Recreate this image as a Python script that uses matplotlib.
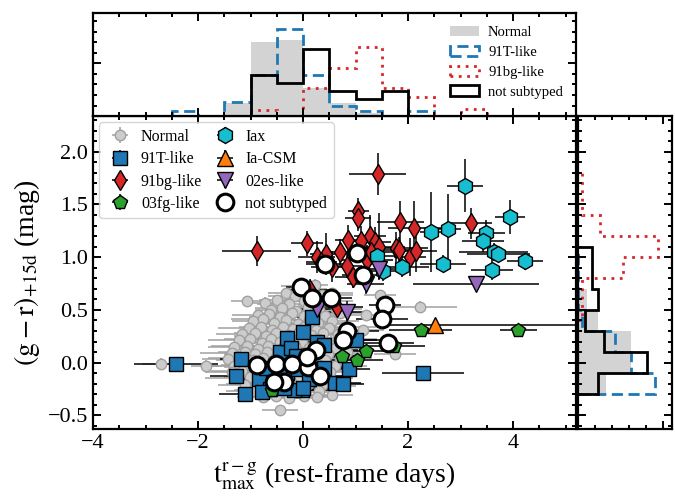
import numpy as np
import matplotlib
matplotlib.use('Agg')
import matplotlib.pyplot as plt
from matplotlib.patches import Patch
from matplotlib.ticker import MultipleLocator

plt.rcParams['font.family'] = ['Liberation Serif', 'DejaVu Serif']
plt.rcParams['mathtext.fontset'] = 'stix'

# ---------------- scatter data: (t_max^{r-g}, (g-r)_15d, xerr[, yerr]) ----------------
normal = [
    (-0.12, 0.73, 0.3), (0.05, 0.70, 0.4), (0.22, 0.74, 0.25),
    (-0.32, 0.66, 0.35), (-0.16, 0.63, 0.5), (0.12, 0.67, 0.3), (0.36, 0.64, 0.6), (0.55, 0.66, 0.4), (1.47, 0.64, 0.3),
    (-1.07, 0.58, 0.3), (-0.72, 0.57, 0.4), (-0.49, 0.59, 0.35), (-0.27, 0.56, 0.6), (0.02, 0.58, 0.45), (0.21, 0.55, 0.3),
    (0.46, 0.58, 0.5), (2.23, 0.53, 0.7),
    (-0.61, 0.50, 0.3), (-0.41, 0.52, 0.5), (-0.14, 0.49, 0.4), (0.09, 0.53, 0.6), (0.31, 0.50, 0.35), (0.62, 0.51, 0.5),
    (-0.86, 0.45, 0.5), (-0.64, 0.46, 0.3), (-0.43, 0.43, 0.6), (-0.21, 0.47, 0.4), (0.01, 0.44, 0.5), (0.19, 0.46, 0.7),
    (0.42, 0.44, 0.4), (0.71, 0.47, 0.5), (1.20, 0.45, 0.5),
    (-0.96, 0.39, 0.4), (-0.77, 0.41, 0.6), (-0.56, 0.38, 0.35), (-0.33, 0.40, 0.5), (-0.09, 0.37, 0.8), (0.12, 0.40, 0.4),
    (0.29, 0.38, 0.6), (0.56, 0.39, 0.5),
    (-1.02, 0.33, 0.6), (-0.81, 0.34, 0.4), (-0.59, 0.31, 0.5), (-0.38, 0.34, 0.7), (-0.19, 0.32, 0.4), (0.02, 0.34, 0.5),
    (0.24, 0.31, 0.6), (0.49, 0.33, 0.4), (0.79, 0.34, 0.6), (1.15, 0.31, 0.4),
    (-1.16, 0.27, 0.5), (-0.92, 0.28, 0.4), (-0.71, 0.25, 0.6), (-0.51, 0.28, 0.5), (-0.29, 0.26, 0.4), (-0.08, 0.29, 0.7),
    (0.16, 0.26, 0.5), (0.38, 0.28, 0.6), (0.66, 0.27, 0.4),
    (-1.21, 0.21, 0.6), (-1.01, 0.22, 0.5), (-0.79, 0.19, 0.4), (-0.61, 0.22, 0.7), (-0.44, 0.20, 0.5), (-0.24, 0.23, 0.6),
    (-0.02, 0.20, 0.4), (0.29, 0.22, 0.5), (0.54, 0.20, 0.6), (0.91, 0.22, 0.5),
    (-1.31, 0.15, 0.5), (-1.06, 0.16, 0.7), (-0.86, 0.13, 0.5), (-0.66, 0.16, 0.4), (-0.41, 0.14, 0.6), (-0.16, 0.16, 0.5),
    (0.11, 0.14, 0.7), (0.36, 0.16, 0.4), (0.61, 0.14, 0.5),
    (-1.36, 0.09, 0.6), (-1.11, 0.10, 0.5), (-0.91, 0.08, 0.6), (-0.69, 0.10, 0.5), (-0.49, 0.07, 0.7), (-0.31, 0.10, 0.4),
    (-0.06, 0.08, 0.6), (0.19, 0.10, 0.5), (0.48, 0.08, 0.6), (0.84, 0.10, 0.4), (1.75, 0.08, 0.4),
    (-1.42, 0.03, 0.5), (-1.21, 0.04, 0.6), (-0.96, 0.02, 0.7), (-0.76, 0.04, 0.5), (-0.56, 0.01, 0.6), (-0.36, 0.04, 0.5),
    (-0.11, 0.02, 0.7), (0.14, 0.04, 0.6), (0.41, 0.02, 0.5), (0.71, 0.04, 0.6),
    (-2.71, -0.01, 0.35), (-1.84, -0.03, 0.3), (-1.31, -0.03, 0.6), (-1.06, -0.02, 0.5), (-0.81, -0.04, 0.7),
    (-0.61, -0.02, 0.5), (-0.41, -0.04, 0.6), (-0.16, -0.02, 0.5), (0.06, -0.04, 0.7), (0.31, -0.02, 0.5), (0.61, -0.03, 0.6),
    (-1.36, -0.09, 0.5), (-1.16, -0.08, 0.6), (-0.91, -0.10, 0.5), (-0.71, -0.08, 0.7), (-0.46, -0.10, 0.5),
    (-0.26, -0.08, 0.6), (0.01, -0.10, 0.5), (0.26, -0.08, 0.7), (0.51, -0.09, 0.5),
    (-1.26, -0.15, 0.6), (-1.01, -0.14, 0.5), (-0.76, -0.16, 0.6), (-0.56, -0.14, 0.5), (-0.31, -0.16, 0.7),
    (-0.06, -0.14, 0.5), (0.21, -0.16, 0.6), (0.46, -0.15, 0.5),
    (-1.11, -0.21, 0.5), (-0.86, -0.20, 0.6), (-0.61, -0.22, 0.5), (-0.41, -0.20, 0.7), (-0.16, -0.22, 0.5),
    (0.09, -0.20, 0.6), (0.36, -0.21, 0.5), (0.61, -0.22, 0.4),
    (-0.96, -0.27, 0.5), (-0.71, -0.26, 0.6), (-0.46, -0.28, 0.5), (-0.21, -0.26, 0.6), (0.04, -0.28, 0.5), (0.31, -0.27, 0.6),
    (-0.76, -0.33, 0.5), (-0.51, -0.32, 0.4), (-0.26, -0.34, 0.5), (0.01, -0.32, 0.6), (0.26, -0.33, 0.4), (0.56, -0.31, 0.4),
    (-0.44, -0.45, 0.35),
]

t91 = [
    (-2.41, -0.01, 0.8, 0.05), (-1.19, 0.03, 0.4, 0.05), (-1.28, -0.13, 0.5, 0.05), (-1.10, -0.30, 0.5, 0.05),
    (-0.84, -0.16, 0.5, 0.05), (-0.44, 0.10, 0.4, 0.05), (-0.31, 0.23, 0.4, 0.05), (-0.01, 0.29, 0.3, 0.05),
    (-0.22, 0.14, 0.4, 0.05), (0.18, 0.43, 0.3, 0.05), (0.26, 0.20, 0.4, 0.05), (0.39, 0.17, 0.5, 0.05),
    (-0.02, -0.26, 0.5, 0.05), (-0.18, -0.26, 0.5, 0.05), (-0.37, -0.24, 0.5, 0.05), (0.39, -0.05, 0.6, 0.05),
    (0.61, -0.19, 0.5, 0.05), (1.01, 0.21, 0.4, 0.05), (0.88, -0.06, 0.4, 0.05), (0.76, -0.20, 0.4, 0.05),
    (2.29, -0.10, 0.78, 0.05),
    (-0.70, -0.05, 0.5, 0.04), (-0.62, -0.25, 0.5, 0.04), (-0.30, -0.10, 0.6, 0.04), (-0.10, -0.06, 0.5, 0.04),
    (-0.78, -0.28, 0.4, 0.04), (-0.14, 0.06, 0.5, 0.04), (0.12, -0.16, 0.6, 0.04), (-0.46, -0.12, 0.5, 0.04),
    (0.00, -0.24, 0.5, 0.04),
]

bg91 = [
    (-0.88, 1.06, 0.66, 0.14), (0.08, 1.13, 0.30, 0.12), (0.26, 1.00, 0.35, 0.15), (0.44, 1.03, 0.30, 0.20),
    (0.13, 0.69, 0.40, 0.10), (0.55, 0.91, 0.40, 0.15), (0.64, 0.53, 0.50, 0.10), (0.85, 1.16, 0.25, 0.15),
    (0.83, 0.92, 0.30, 0.12), (0.96, 0.81, 0.35, 0.10), (1.05, 1.44, 0.20, 0.12), (1.05, 1.37, 0.25, 0.12),
    (1.21, 0.97, 0.50, 0.15), (1.28, 1.20, 0.30, 0.20), (1.37, 1.14, 0.30, 0.15), (1.44, 1.10, 0.50, 0.32),
    (1.42, 1.79, 0.55, 0.20), (1.78, 1.09, 0.60, 0.15), (1.83, 1.07, 0.40, 0.12), (1.85, 1.33, 0.45, 0.20),
    (2.04, 1.00, 0.30, 0.18), (2.12, 1.28, 0.50, 0.25), (2.15, 1.06, 0.40, 0.20), (3.19, 1.32, 0.40, 0.15),
    (0.35, 0.95, 0.30, 0.10), (0.70, 1.05, 0.30, 0.12), (1.10, 1.15, 0.30, 0.15), (1.30, 1.05, 0.40, 0.12),
]

fg03 = [
    (-0.60, -0.26, 0.4, 0.05), (0.74, 0.06, 0.5, 0.05), (1.03, 0.02, 0.5, 0.05), (1.20, 0.11, 0.5, 0.05),
    (1.73, 0.16, 0.6, 0.05), (2.24, 0.31, 0.6, 0.05), (4.10, 0.31, 0.35, 0.05),
]

iax = [
    (3.09, 1.68, 0.34, 0.25), (3.94, 1.38, 0.29, 0.16), (2.43, 1.24, 0.20, 0.38), (2.76, 1.27, 0.25, 0.33),
    (3.49, 1.23, 0.35, 0.12), (3.43, 1.15, 0.40, 0.10), (3.63, 1.05, 0.65, 0.08), (3.72, 1.03, 0.60, 0.08),
    (4.23, 0.96, 0.35, 0.08), (3.60, 0.88, 0.40, 0.10), (2.66, 0.94, 0.44, 0.08), (1.89, 0.91, 0.50, 0.10),
    (1.40, 1.01, 0.40, 0.15), (1.52, 0.87, 0.30, 0.10),
]

csm_x, csm_y = [2.51], [0.36]
csm_xerr = [[1.0], [3.0]]
csm_yerr = [0.05]

es02 = [
    (1.45, 0.89, 0.30, 0.10), (1.19, 0.75, 0.35, 0.10), (3.30, 0.75, 1.20, 0.05),
    (0.26, 0.51, 0.40, 0.10), (0.83, 0.48, 0.40, 0.10),
]

nosub = [
    (0.41, 0.94, 0.35, 0.06), (-0.03, 0.72, 0.30, 0.05), (0.18, 0.61, 0.40, 0.05), (0.53, 0.61, 0.40, 0.05),
    (-0.87, -0.02, 0.50, 0.04), (-0.52, -0.01, 0.50, 0.04), (-0.21, -0.01, 0.60, 0.04), (0.10, -0.04, 0.70, 0.04),
    (0.25, 0.12, 0.80, 0.05), (0.32, -0.13, 0.60, 0.04), (-0.36, -0.18, 0.50, 0.04), (-0.55, -0.18, 0.50, 0.04),
    (1.56, 0.55, 0.30, 0.05), (1.50, 0.41, 0.50, 0.05), (0.84, 0.30, 0.60, 0.05), (0.76, 0.21, 0.70, 0.05),
    (1.62, 0.19, 0.50, 0.05), (0.07, 0.05, 0.60, 0.04), (1.02, 1.04, 0.40, 0.08), (1.14, 0.83, 0.40, 0.06),
]

# ---------------- marginal histograms ----------------
top_edges = [-2.5, -2.0, -1.5, -1.0, -0.5, 0.0, 0.5, 1.0, 1.5, 2.0, 2.5, 3.0, 3.5]
top_normal = [0, 0, 0.24, 1.41, 1.44, 0.54, 0.24, 0.05, 0, 0, 0, 0]
top_91t = [0.10, 0, 0.27, 0.78, 1.66, 0.79, 0.19, 0.10, 0, 0.10, 0, 0]
top_91bg = [0, 0, 0, 0.12, 0, 0.54, 0.92, 1.31, 0.53, 0.36, 0, 0.14]
top_nosub = [0, 0, 0, 0.78, 0.62, 1.27, 0.47, 0.32, 0.48, 0, 0, 0]

right_edges = [-0.3, -0.1, 0.1, 0.3, 0.5, 0.7, 0.9, 1.1]
right_normal = [0.33, 0.62, 0.62, 0.24, 0.10, 0, 0]
right_91t = [0.90, 0.62, 0.44, 0.05, 0, 0, 0]
right_nosub = [0.24, 0.81, 0.31, 0.08, 0.24, 0.16, 0.16]
right_edges_bg = [0.4, 0.6, 0.8, 1.0, 1.2, 1.4, 1.6, 1.8]
right_91bg = [0.05, 0.05, 0.53, 0.94, 0.26, 0.05, 0.05]

c_t91 = '#1f77b4'
c_bg = '#d62728'
c_fg = '#2ca02c'
c_iax = '#17becf'
c_csm = '#ff7f0e'
c_es = '#9467bd'
c_gray = '#d3d3d3'


def style(ax):
    ax.tick_params(which='both', direction='in', top=True, right=True, width=1.4)
    ax.tick_params(which='major', length=6)
    ax.tick_params(which='minor', length=3)
    for s in ax.spines.values():
        s.set_linewidth(1.6)


def draw(ax, pts, label, **kw):
    a = np.array(pts)
    ax.errorbar(a[:, 0], a[:, 1], xerr=a[:, 2], yerr=a[:, 3], ls='none', capsize=0,
                elinewidth=1.1, ecolor='k', mec='k', label=label, **kw)


fig = plt.figure(figsize=(6.75, 4.99), dpi=100)
ax = fig.add_axes([0.1378, 0.1403, 0.7156, 0.6273])
ax_top = fig.add_axes([0.1378, 0.7675, 0.7156, 0.2064], sharex=ax)
ax_r = fig.add_axes([0.8563, 0.1403, 0.1393, 0.6273], sharey=ax)

# main scatter
g = np.array(normal)
ax.errorbar(g[:, 0], g[:, 1], xerr=g[:, 2], yerr=0.05, fmt='o', ms=7.5, mfc='#cccccc',
            mec='#a0a0a0', ecolor='#a0a0a0', elinewidth=1.1, capsize=0, label='Normal')
draw(ax, t91, '91T-like', marker='s', ms=9.5, mfc=c_t91, mew=1.0)
draw(ax, bg91, '91bg-like', marker='d', ms=10, mfc=c_bg, mew=1.0)
draw(ax, fg03, '03fg-like', marker='p', ms=10.5, mfc=c_fg, mew=1.0)
draw(ax, iax, 'Iax', marker='h', ms=11.5, mfc=c_iax, mew=1.0)
ax.errorbar(csm_x, csm_y, xerr=csm_xerr, yerr=csm_yerr, ls='none', marker='^', ms=11,
            mfc=c_csm, mec='k', mew=1.0, ecolor='k', elinewidth=1.1, capsize=0, label='Ia-CSM')
draw(ax, es02, '02es-like', marker='v', ms=11, mfc=c_es, mew=1.0)
draw(ax, nosub, 'not subtyped', marker='o', ms=12, mfc='white', mew=2.2)

ax.set_xlim(-4, 5.2)
ax.set_ylim(-0.63, 2.34)
ax.xaxis.set_major_locator(MultipleLocator(2))
ax.xaxis.set_minor_locator(MultipleLocator(0.5))
ax.yaxis.set_major_locator(MultipleLocator(0.5))
ax.yaxis.set_minor_locator(MultipleLocator(0.1))
style(ax)
ax.tick_params(labelsize=16)
ax.set_xlabel(r'$\mathrm{t_{max}^{r-g}}$ (rest-frame days)', fontsize=20, labelpad=5)
ax.set_ylabel(r'$\mathrm{(g-r)_{+15d}}$ (mag)', fontsize=20, labelpad=4)
leg = ax.legend(loc='upper left', ncol=2, fontsize=11.5, handletextpad=0.4, handlelength=1.8,
                columnspacing=0.5, labelspacing=0.4, borderaxespad=0.4)
leg.get_frame().set_edgecolor('#cccccc')

# top histogram
ax_top.stairs(top_normal, top_edges, fill=True, color=c_gray)
ax_top.stairs(top_91t, top_edges, color=c_t91, ls=(0, (4, 2)), lw=2)
ax_top.stairs(top_91bg, top_edges, color=c_bg, ls=(0, (1, 2)), lw=2)
ax_top.stairs(top_nosub, top_edges, color='k', lw=2)
ax_top.set_ylim(0, 1.96)
ax_top.yaxis.set_major_locator(MultipleLocator(1))
ax_top.yaxis.set_minor_locator(MultipleLocator(0.2))
style(ax_top)
ax_top.tick_params(labelbottom=False, labelleft=False)
handles = [
    Patch(facecolor=c_gray, edgecolor='none', label='Normal'),
    Patch(facecolor='none', edgecolor=c_t91, ls=(0, (4, 2)), lw=2, label='91T-like'),
    Patch(facecolor='none', edgecolor=c_bg, ls=(0, (1, 2)), lw=2, label='91bg-like'),
    Patch(facecolor='none', edgecolor='k', lw=2, label='not subtyped'),
]
ax_top.legend(handles=handles, loc='upper right', frameon=False, fontsize=10.5,
              handlelength=2.0, labelspacing=0.45, borderaxespad=0.5, handletextpad=0.6)

# right histogram
ax_r.stairs(right_normal, right_edges, fill=True, color=c_gray, orientation='horizontal')
ax_r.stairs(right_91t, right_edges, color=c_t91, ls=(0, (4, 2)), lw=2, orientation='horizontal')
ax_r.stairs(right_91bg, right_edges_bg, color=c_bg, ls=(0, (1, 2)), lw=2, orientation='horizontal')
ax_r.stairs(right_nosub, right_edges, color='k', lw=2, orientation='horizontal')
ax_r.set_xlim(0, 1.106)
ax_r.xaxis.set_major_locator(MultipleLocator(1))
ax_r.xaxis.set_minor_locator(MultipleLocator(0.2))
style(ax_r)
ax_r.tick_params(labelbottom=False, labelleft=False)

fig.savefig('out.png', dpi=100)
